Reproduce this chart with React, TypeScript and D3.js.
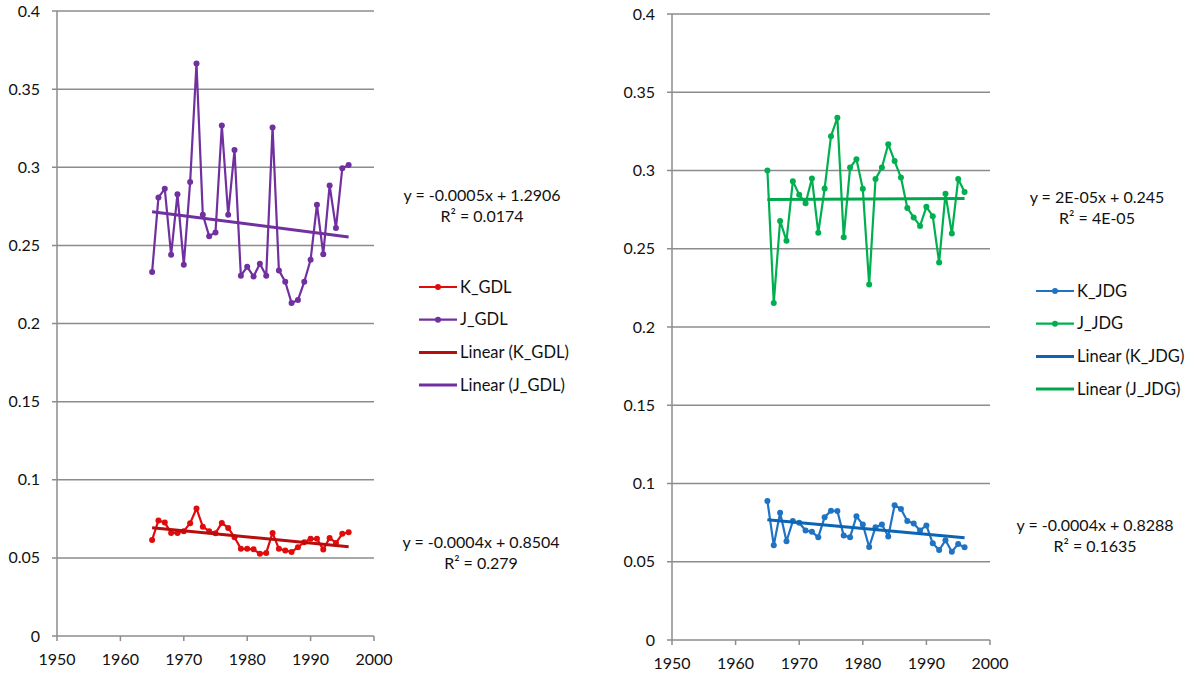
import { useRef, useEffect } from "react";
import * as d3 from "d3";

const years: number[] = [
  1965, 1966, 1967, 1968, 1969, 1970, 1971, 1972, 1973, 1974, 1975, 1976, 1977, 1978, 1979, 1980,
  1981, 1982, 1983, 1984, 1985, 1986, 1987, 1988, 1989, 1990, 1991, 1992, 1993, 1994, 1995, 1996,
];

const kGDL: number[] = [
  0.0615, 0.0739, 0.0726, 0.066, 0.066, 0.0671, 0.0722, 0.0816, 0.07, 0.0671, 0.0658, 0.0724,
  0.0692, 0.0632, 0.0558, 0.0558, 0.0555, 0.0526, 0.0532, 0.066, 0.0558, 0.0547, 0.0538, 0.0568,
  0.06, 0.0622, 0.0622, 0.0553, 0.0628, 0.0596, 0.0654, 0.0664,
];

const jGDL: number[] = [
  0.2329, 0.2807, 0.2862, 0.244, 0.2828, 0.2376, 0.2905, 0.3664, 0.2696, 0.2559, 0.2583, 0.3267,
  0.2696, 0.311, 0.2306, 0.2363, 0.2301, 0.2382, 0.2306, 0.3255, 0.234, 0.2267, 0.2131, 0.215,
  0.2267, 0.2408, 0.276, 0.2444, 0.2884, 0.2611, 0.2994, 0.3014,
];

const kJDG: number[] = [
  0.0888, 0.0605, 0.0813, 0.0631, 0.076, 0.0749, 0.07, 0.0691, 0.0657, 0.0785, 0.0826, 0.0824,
  0.0667, 0.0657, 0.079, 0.0738, 0.0594, 0.0721, 0.0738, 0.0661, 0.0861, 0.0837, 0.076, 0.0745,
  0.07, 0.0732, 0.0618, 0.0575, 0.0637, 0.0564, 0.0614, 0.0592,
];

const jJDG: number[] = [
  0.3, 0.2154, 0.2678, 0.2551, 0.2932, 0.2845, 0.2791, 0.2949, 0.2602, 0.2885, 0.3219, 0.3337,
  0.2574, 0.3019, 0.3072, 0.2883, 0.2272, 0.2945, 0.3019, 0.3168, 0.306, 0.2955, 0.2761, 0.27,
  0.2646, 0.2768, 0.2708, 0.2412, 0.2851, 0.2597, 0.2945, 0.2862,
];

const yearTicks: number[] = [1950, 1960, 1970, 1980, 1990, 2000];
const valueTicks: number[] = [0, 0.05, 0.1, 0.15, 0.2, 0.25, 0.3, 0.35, 0.4];
const valueTickLabels: string[] = ["0", "0.05", "0.1", "0.15", "0.2", "0.25", "0.3", "0.35", "0.4"];

const leftNames: string[] = ["K_GDL", "J_GDL", "Linear (K_GDL)", "Linear (J_GDL)"];
const rightNames: string[] = ["K_JDG", "J_JDG", "Linear (K_JDG)", "Linear (J_JDG)"];

const leftEquations: string[][] = [
  ["y = -0.0005x + 1.2906", "R² = 0.0174"],
  ["y = -0.0004x + 0.8504", "R² = 0.279"],
];
const rightEquations: string[][] = [
  ["y = 2E-05x + 0.245", "R² = 4E-05"],
  ["y = -0.0004x + 0.8288", "R² = 0.1635"],
];

const FONT = "Lato, 'Open Sans', sans-serif";
const GRID = "#8c8c8c";
const TXT = "#111";

// least squares fit of a series against years
const fit = (xs: number[], ys: number[]) => {
  const mx = d3.mean(xs) as number;
  const my = d3.mean(ys) as number;
  let num = 0, den = 0;
  xs.forEach((x, i) => { num += (x - mx) * (ys[i] - my); den += (x - mx) * (x - mx); });
  const b = num / den;
  return (x: number) => my + b * (x - mx);
};

const drawPanel = (svg: any, p: any) => {
  const g = svg.append("g");
  const x = d3.scaleLinear().domain([1950, 2000]).range([p.left, p.right]);
  const y = d3.scaleLinear().domain([0, 0.4]).range([p.bottom, p.top]);

  // grid + y ticks
  g.selectAll(".grid")
    .data(valueTicks)
    .join("line")
    .attr("x1", p.left - 5)
    .attr("x2", p.right)
    .attr("y1", (d: number) => y(d))
    .attr("y2", (d: number) => y(d))
    .attr("stroke", GRID)
    .attr("stroke-width", 1.5);

  g.selectAll(".ylab")
    .data(valueTicks)
    .join("text")
    .attr("x", p.left - 17)
    .attr("y", (d: number) => y(d))
    .attr("dy", "0.35em")
    .attr("text-anchor", "end")
    .attr("fill", TXT)
    .style("font", `16px ${FONT}`)
    .text((_: number, i: number) => valueTickLabels[i]);

  // axes
  g.append("line")
    .attr("x1", p.left).attr("x2", p.left)
    .attr("y1", y(0.4)).attr("y2", p.bottom)
    .attr("stroke", GRID).attr("stroke-width", 1.5);

  g.selectAll(".xtick")
    .data(yearTicks)
    .join("line")
    .attr("x1", (d: number) => x(d))
    .attr("x2", (d: number) => x(d))
    .attr("y1", p.bottom)
    .attr("y2", p.bottom + 5)
    .attr("stroke", GRID)
    .attr("stroke-width", 1.5);

  g.selectAll(".xlab")
    .data(yearTicks)
    .join("text")
    .attr("x", (d: number) => x(d))
    .attr("y", p.bottom + 23)
    .attr("dy", "0.35em")
    .attr("text-anchor", "middle")
    .attr("fill", TXT)
    .style("font", `16px ${FONT}`)
    .text((d: number) => String(d));

  const line = d3.line<number>().x((_, i) => x(years[i])).y((d) => y(d));

  p.series.forEach((s: any) => {
    g.append("path")
      .attr("d", line(s.values))
      .attr("fill", "none")
      .attr("stroke", s.color)
      .attr("stroke-width", 2.2)
      .attr("stroke-linejoin", "round");
    g.selectAll(null)
      .data(s.values)
      .join("circle")
      .attr("cx", (_: number, i: number) => x(years[i]))
      .attr("cy", (d: number) => y(d))
      .attr("r", 3)
      .attr("fill", s.color);
  });

  p.series.forEach((s: any) => {
    const f = fit(years, s.values);
    const x0 = years[0], x1 = years[years.length - 1];
    g.append("line")
      .attr("x1", x(x0)).attr("y1", y(f(x0)))
      .attr("x2", x(x1)).attr("y2", y(f(x1)))
      .attr("stroke", s.trend)
      .attr("stroke-width", 3);
  });

  // equations
  p.equations.forEach((eq: string[], k: number) => {
    eq.forEach((t: string, j: number) => {
      g.append("text")
        .attr("x", p.eqPos[k][0])
        .attr("y", p.eqPos[k][1] + j * 21)
        .attr("dy", "0.35em")
        .attr("text-anchor", "middle")
        .attr("fill", TXT)
        .style("font", `16px ${FONT}`)
        .text(t);
    });
  });

  // legend
  const legendItems = [
    { color: p.series[0].color, dot: true },
    { color: p.series[1].color, dot: true },
    { color: p.series[0].trend, dot: false },
    { color: p.series[1].trend, dot: false },
  ];
  legendItems.forEach((it, i) => {
    const ly = p.legend[1] + i * 32.7;
    g.append("line")
      .attr("x1", p.legend[0]).attr("x2", p.legend[0] + 38)
      .attr("y1", ly).attr("y2", ly)
      .attr("stroke", it.color)
      .attr("stroke-width", it.dot ? 2.2 : 3);
    if (it.dot) {
      g.append("circle").attr("cx", p.legend[0] + 19).attr("cy", ly).attr("r", 3).attr("fill", it.color);
    }
    g.append("text")
      .attr("x", p.legend[0] + 41)
      .attr("y", ly)
      .attr("dy", "0.35em")
      .attr("fill", TXT)
      .style("font", `16.5px ${FONT}`)
      .text(p.names[i]);
  });
};

const App = () => {
  const svgRef = useRef<SVGSVGElement>(null);
  const width = 1192;
  const height = 673;

  useEffect(() => {
    const svg: any = d3.select(svgRef.current);
    svg.selectAll("*").remove();

    drawPanel(svg, {
      left: 57, right: 374, top: 11, bottom: 636,
      series: [
        { values: kGDL, color: "#e00b0b", trend: "#b80d0d" },
        { values: jGDL, color: "#7030a0", trend: "#7030a0" },
      ],
      names: leftNames,
      equations: leftEquations,
      eqPos: [[482, 195], [481, 542]],
      legend: [419, 287],
    });

    drawPanel(svg, {
      left: 672, right: 990, top: 14, bottom: 640,
      series: [
        { values: kJDG, color: "#1f73c4", trend: "#0b65b4" },
        { values: jJDG, color: "#00b050", trend: "#00a84c" },
      ],
      names: rightNames,
      equations: rightEquations,
      eqPos: [[1097, 197], [1095, 525]],
      legend: [1036, 291],
    });
  }, []);

  return (
    <svg
      ref={svgRef}
      width={width}
      height={height}
      style={{ position: "absolute", left: 0, top: 0, background: "#fff" }}
    />
  );
};

export default App;
